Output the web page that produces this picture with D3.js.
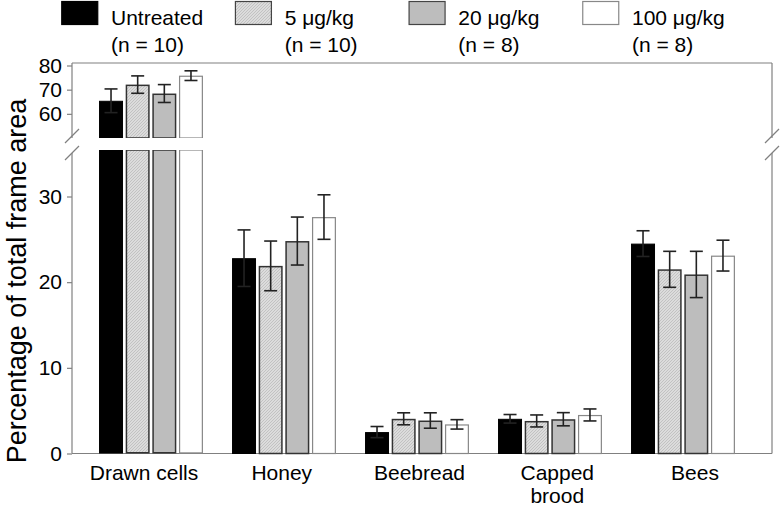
<!DOCTYPE html>
<html><head><meta charset="utf-8">
<script src="https://cdn.jsdelivr.net/npm/d3@7"></script>
<style>
body{margin:0;background:#fff;}
svg{display:block;font-family:"Liberation Sans",Arial,Helvetica,sans-serif;}
</style></head>
<body><svg id="c" width="780" height="506"></svg>
<script>
const categories = ["Drawn cells","Honey","Beebread","Capped\nbrood","Bees"];
const series = ["Untreated","5 μg/kg","20 μg/kg","100 μg/kg"];
const seriesN = ["(n = 10)","(n = 10)","(n = 8)","(n = 8)"];
const untreated = [65.4,22.8,2.5,4.05,24.5];
const untreatedErr = [4.9,3.3,0.65,0.5,1.5];
const dose5 = [72.1,21.9,4.05,3.8,21.5];
const dose5Err = [3.6,2.9,0.7,0.7,2.1];
const dose20 = [68.4,24.8,3.85,4.0,20.9];
const dose20Err = [3.7,2.8,0.9,0.77,2.7];
const dose100 = [75.8,27.6,3.4,4.5,23.1];
const dose100Err = [2.0,2.6,0.55,0.7,1.8];
const lowerTicks = [0,10,20,30];
const upperTicks = [60,70,80];

(function(){
const svg = d3.select("#c");
const pLeft = 72, pRight = 772, pTop = 63, pBottom = 453.5;
const breakTop = 138, breakBot = 150;

const yL = d3.scaleLinear().domain([0,30]).range([pBottom,196.5]);
const yU = d3.scaleLinear().domain([50,80]).range([breakTop,65.5]);
const x0 = d3.scaleBand().domain(categories).range([84.5,749.5]);
const x1 = d3.scaleBand().domain(series).range([-53.3,53.3]).paddingInner(0.1).paddingOuter(0.05);
const xLab = d3.scalePoint().domain(categories).range([144,695]);

const defs = svg.append("defs");
const pat = defs.append("pattern").attr("id","hatch").attr("patternUnits","userSpaceOnUse")
  .attr("width",3).attr("height",3);
pat.append("rect").attr("width",3).attr("height",3).attr("fill","#dcdcdc");
pat.append("path").attr("d","M0,3 L3,0 M-1,1 L1,-1 M2,4 L4,2").attr("stroke","#b8b8b8").attr("stroke-width",0.7);

const styles = [
  {fill:"#000", stroke:"#000", sw:1},
  {fill:"url(#hatch)", stroke:"#333", sw:1.5},
  {fill:"#bdbdbd", stroke:"#333", sw:1.5},
  {fill:"#fff", stroke:"#888", sw:1.2}
];

const data = [];
const vals = [untreated,dose5,dose20,dose100];
const errs = [untreatedErr,dose5Err,dose20Err,dose100Err];
categories.forEach((c,ci)=>{
  series.forEach((s,si)=>{
    data.push({c, s, si, v: vals[si][ci], e: errs[si][ci]});
  });
});

// frame
const frame = svg.append("g").attr("stroke","#808080").attr("stroke-width",1.2).attr("fill","none");
frame.append("line").attr("x1",pLeft).attr("x2",pRight).attr("y1",pTop).attr("y2",pTop);
frame.append("line").attr("x1",pLeft).attr("x2",pLeft).attr("y1",pTop).attr("y2",breakTop);
frame.append("line").attr("x1",pLeft).attr("x2",pLeft).attr("y1",breakBot+3).attr("y2",pBottom);
frame.append("line").attr("x1",pRight).attr("x2",pRight).attr("y1",pTop).attr("y2",breakTop);
frame.append("line").attr("x1",pRight).attr("x2",pRight).attr("y1",breakBot+3).attr("y2",pBottom);
frame.append("line").attr("x1",pLeft).attr("x2",pRight).attr("y1",pBottom).attr("y2",pBottom);
[pLeft,pRight].forEach(xx=>{
  [136,153].forEach(yy=>{
    frame.append("line").attr("x1",xx-7).attr("x2",xx+7).attr("y1",yy+7).attr("y2",yy-7);
  });
});

// bars
const bx = d => x0(d.c) + x0.bandwidth()/2 + x1(d.s);
const g = svg.append("g");
data.forEach(d=>{
  const st = styles[d.si];
  const h = st.sw/2;
  if (d.v > 40) {
    g.append("rect").attr("x",bx(d)+h).attr("width",x1.bandwidth()-st.sw)
      .attr("y",yU(d.v)+h).attr("height",breakTop-yU(d.v)-h)
      .attr("fill",st.fill).attr("stroke",st.stroke).attr("stroke-width",st.sw);
    g.append("rect").attr("x",bx(d)+h).attr("width",x1.bandwidth()-st.sw)
      .attr("y",breakBot).attr("height",pBottom-breakBot-h)
      .attr("fill",st.fill).attr("stroke",st.stroke).attr("stroke-width",st.sw);
    g.append("rect").attr("x",bx(d)-1).attr("width",x1.bandwidth()+2)
      .attr("y",breakTop).attr("height",breakBot-breakTop).attr("fill","#fff");
  } else {
    g.append("rect").attr("x",bx(d)+h).attr("width",x1.bandwidth()-st.sw)
      .attr("y",yL(d.v)+h).attr("height",pBottom-yL(d.v)-h)
      .attr("fill",st.fill).attr("stroke",st.stroke).attr("stroke-width",st.sw);
  }
});

// error bars
const eg = svg.append("g").attr("stroke","#222").attr("stroke-width",1.6);
data.forEach(d=>{
  const y = d.v > 40 ? yU : yL;
  const cx = bx(d) + x1.bandwidth()/2;
  const y1 = y(d.v + d.e), y2 = y(d.v - d.e);
  eg.append("line").attr("x1",cx).attr("x2",cx).attr("y1",y1).attr("y2",y2);
  eg.append("line").attr("x1",cx-6.5).attr("x2",cx+6.5).attr("y1",y1).attr("y2",y1);
  eg.append("line").attr("x1",cx-6.5).attr("x2",cx+6.5).attr("y1",y2).attr("y2",y2);
});

// axes
const axL = d3.axisLeft(yL).tickValues(lowerTicks).tickSize(5).tickPadding(5).tickFormat(d3.format("d"));
const axU = d3.axisLeft(yU).tickValues(upperTicks).tickSize(5).tickPadding(5).tickFormat(d3.format("d"));
[axL,axU].forEach(ax=>{
  const a = svg.append("g").attr("transform",`translate(${pLeft},0)`).call(ax);
  a.select(".domain").remove();
  a.selectAll("line").attr("stroke","#808080").attr("stroke-width",1.2);
  a.selectAll("text").attr("font-size",21).attr("fill","#000").style("font-family","inherit");
});

// category labels
categories.forEach(c=>{
  const cx = xLab(c);
  const t = svg.append("text").attr("x",cx).attr("y",480)
    .attr("text-anchor","middle").attr("font-size",21).attr("fill","#000");
  c.split("\n").forEach((ln,i)=>{
    t.append("tspan").attr("x",cx).attr("dy",i?23:0).text(ln);
  });
});

// y label
svg.append("text").attr("transform","translate(25.5,281) rotate(-90)")
  .attr("text-anchor","middle").attr("font-size",27).attr("fill","#000")
  .text("Percentage of total frame area");

// legend
const lx = d3.scalePoint().domain(series).range([61,582]);
series.forEach((s,i)=>{
  const st = styles[i];
  const gx = lx(s);
  svg.append("rect").attr("x",gx+0.75).attr("y",1.5).attr("width",36).attr("height",23)
    .attr("fill",st.fill).attr("stroke",i===0?"#000":(i===3?"#888":"#444")).attr("stroke-width",1.2);
  svg.append("text").attr("x",gx+50).attr("y",25).attr("font-size",21).text(s);
  svg.append("text").attr("x",gx+50).attr("y",52).attr("font-size",21).text(seriesN[i]);
});
})();
</script></body></html>
